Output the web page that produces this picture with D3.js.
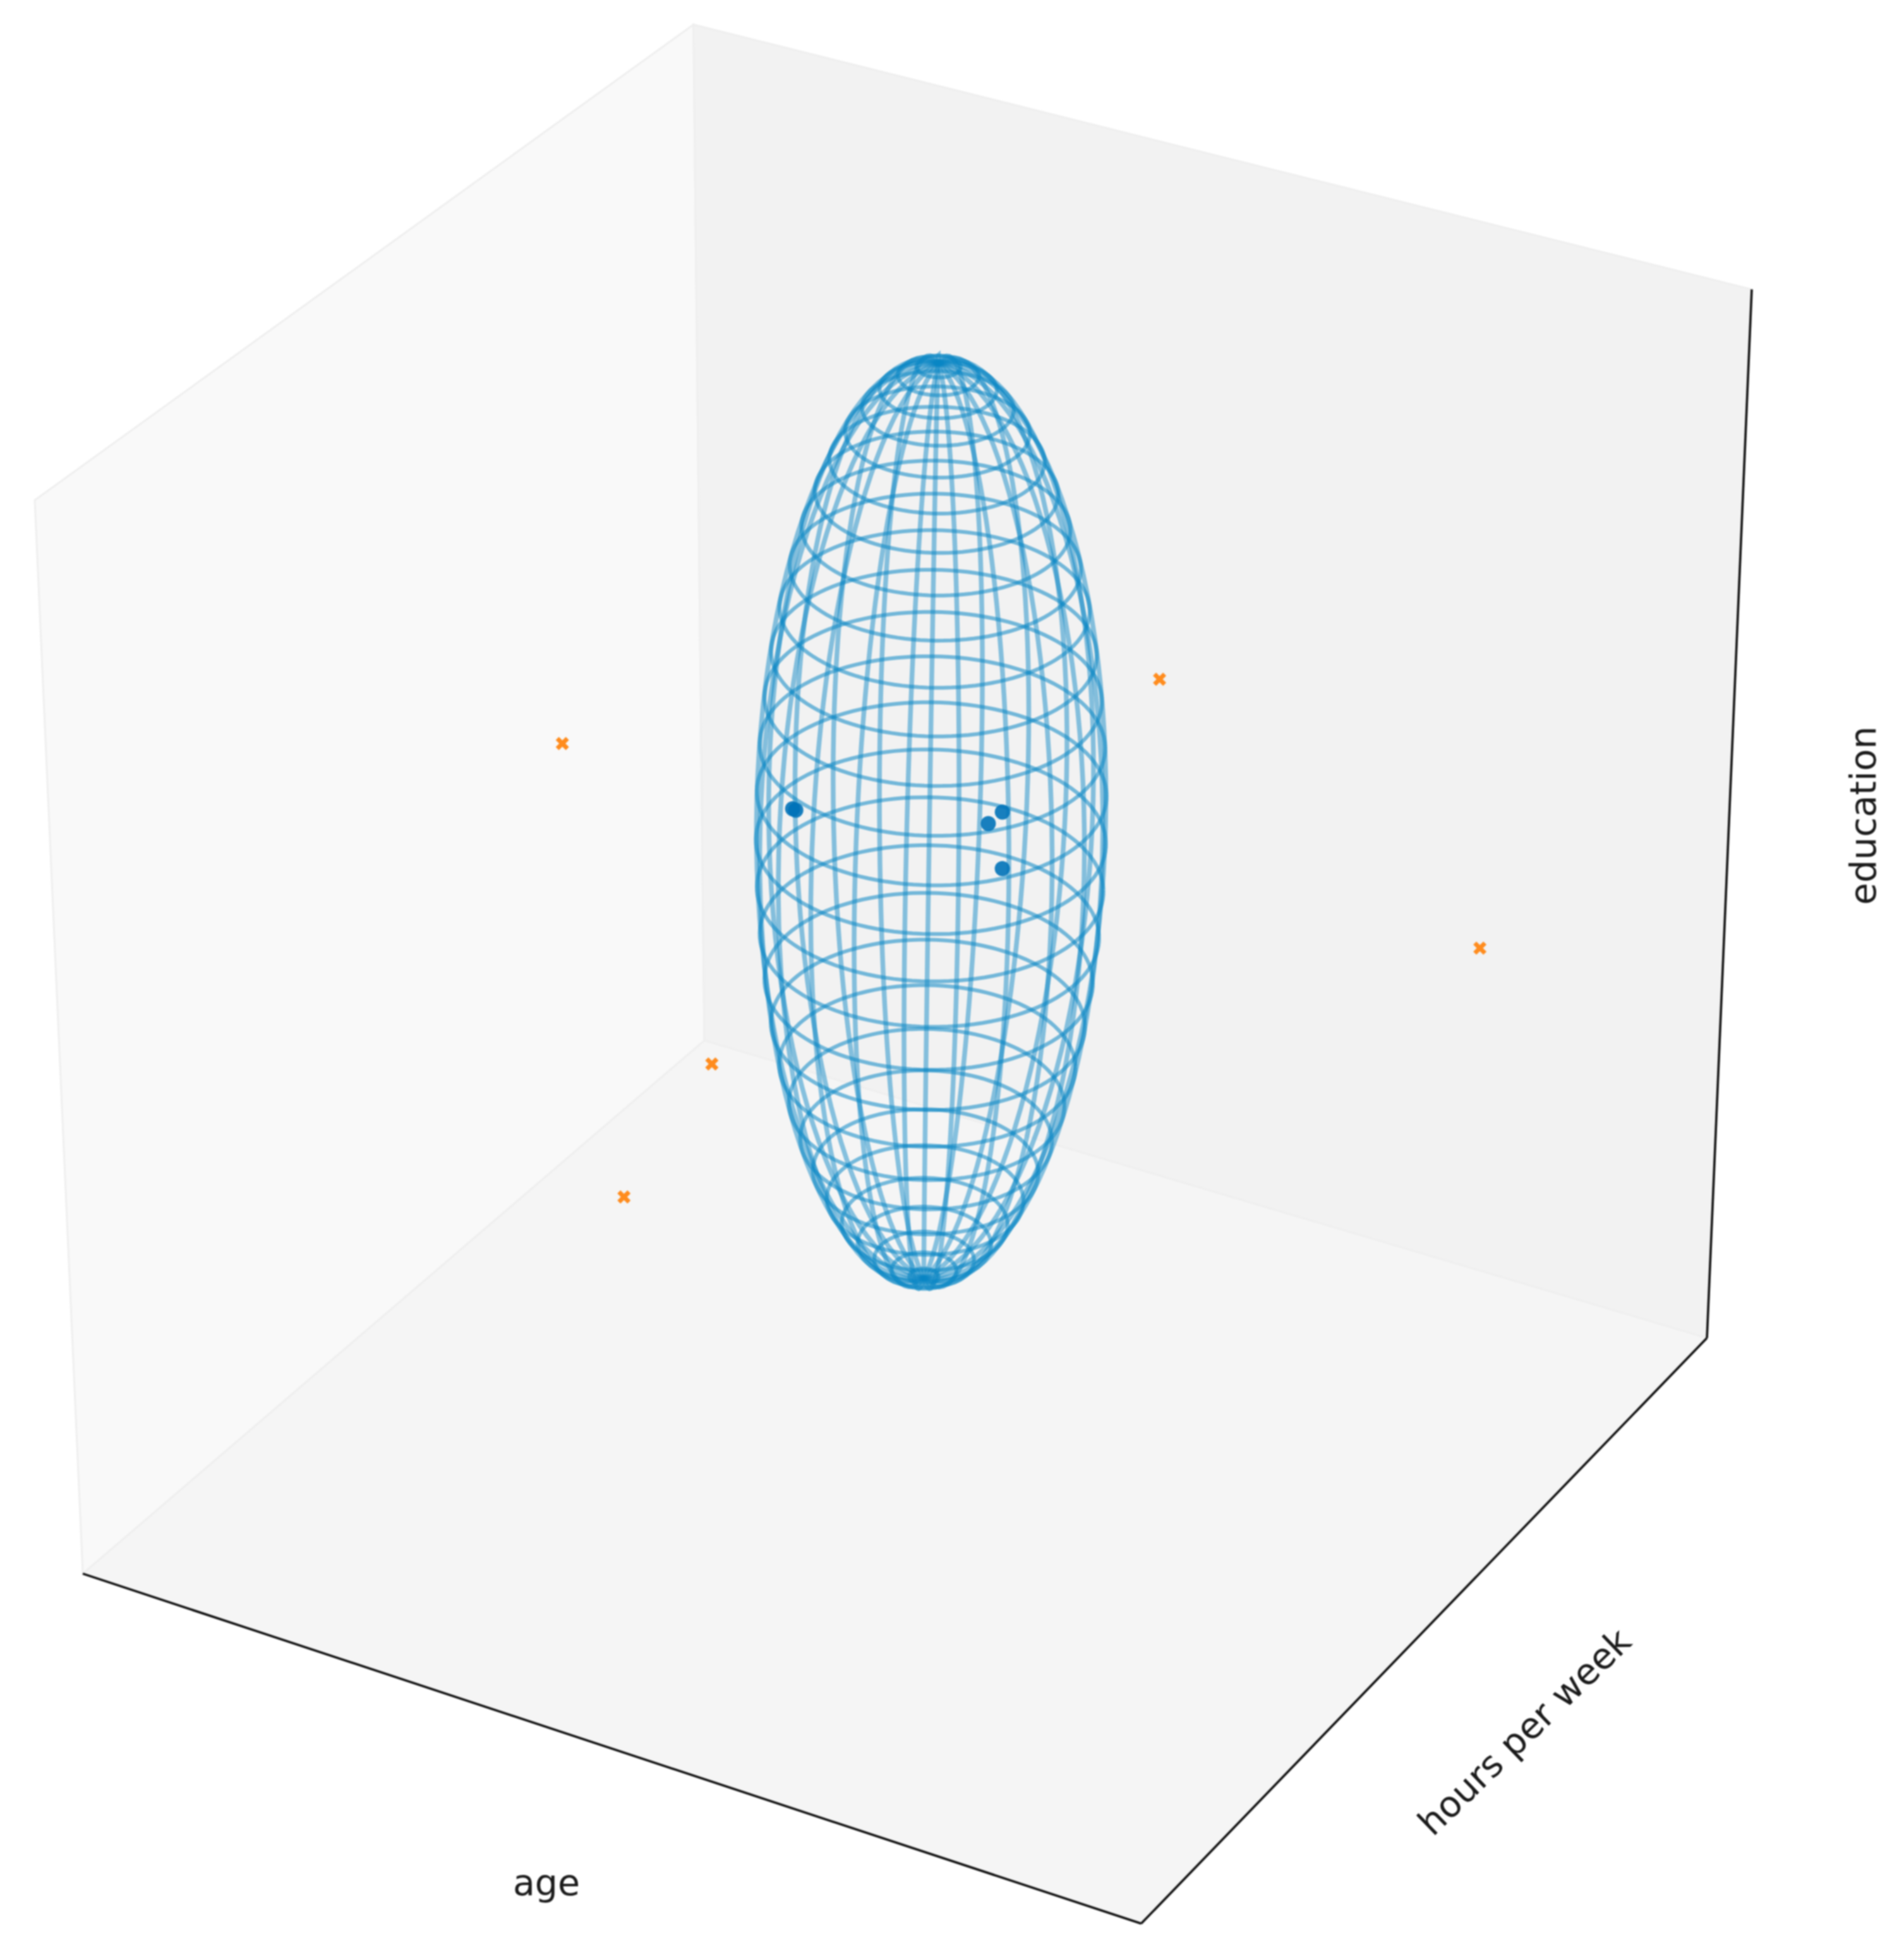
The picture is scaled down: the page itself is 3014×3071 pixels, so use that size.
<!DOCTYPE html>
<html>
<head>
<meta charset="utf-8">
<script src="https://cdn.jsdelivr.net/npm/d3@7"></script>
<style>
  html, body { margin: 0; padding: 0; background: #fff; }
  text { font-family: "DejaVu Sans", sans-serif; fill: #1a1a1a; }
</style>
</head>
<body>
<svg id="chart" width="3014" height="3071"></svg>
<script>
// points, in axis fractions (age, hours per week, education)
var outlierAge = [0.261, 0.297, 0.396, 0.499, 0.907];
var outlierHours = [0.353, 0.522, 0.219, 0.926, 0.730];
var outlierEdu = [0.686, 0.309, 0.369, 0.539, 0.493];

var inlierAge = [0.416, 0.4135, 0.533, 0.5405, 0.552];
var inlierHours = [0.4615, 0.4607, 0.573, 0.583, 0.563];
var inlierEdu = [0.615, 0.616, 0.581, 0.589, 0.549];

// ellipsoid fitted to the outline: width, depth, height
var ellipsoidCenter = [0.4917, 0.5508, 0.5725];
var ellipsoidRadii = [0.1435, 0.1513, 0.4312];
var ellipsoidYaw = Math.PI / 6;
var ellipsoidTilt = 0.015;
var MERIDIANS = 21;
var MERIDIAN_PHASE = 0.0748;
var PARALLELS = 30;
var PARALLEL_PHASE = 0.18;

var axisLabels = ["age", "hours per week", "education"];

var ELEV = 30 * Math.PI / 180;
var AZIM = -60 * Math.PI / 180;
var DIST = 9;

var n = [Math.cos(ELEV) * Math.cos(AZIM), Math.cos(ELEV) * Math.sin(AZIM), Math.sin(ELEV)];
var u = [-Math.sin(AZIM), Math.cos(AZIM), 0];
var v = [n[1] * u[2] - n[2] * u[1], n[2] * u[0] - n[0] * u[2], n[0] * u[1] - n[1] * u[0]];

function dot(a, b) {
  return a[0] * b[0] + a[1] * b[1] + a[2] * b[2];
}

var xWorld = d3.scaleLinear().domain([0, 1]).range([-0.5, 0.5]);
var yWorld = d3.scaleLinear().domain([0, 1]).range([-0.5, 0.5]);
var zWorld = d3.scaleLinear().domain([0, 1]).range([-0.5, 0.5]);

var xScreen = d3.scaleLinear().domain([-0.0795, 0.07667]).range([55, 2773]);
var yScreen = d3.scaleLinear().domain([-0.08945, 0.08291]).range([3045, 39]);

function project(p) {
  var c = [xWorld(p[0]), yWorld(p[1]), zWorld(p[2])];
  var w = DIST - dot(n, c);
  return [xScreen(dot(u, c) / w), yScreen(dot(v, c) / w)];
}

function surfacePoint(theta, psi) {
  var a = ellipsoidRadii[0] * Math.sin(theta) * Math.cos(psi);
  var b = ellipsoidRadii[1] * Math.sin(theta) * Math.sin(psi);
  var sz = ellipsoidRadii[2] * Math.cos(theta);
  var sx = a * Math.cos(ellipsoidYaw) - b * Math.sin(ellipsoidYaw);
  var sy = a * Math.sin(ellipsoidYaw) + b * Math.cos(ellipsoidYaw);
  return [
    ellipsoidCenter[0] + sx + ellipsoidTilt * sz,
    ellipsoidCenter[1] + sy,
    ellipsoidCenter[2] + sz - ellipsoidTilt * sx
  ];
}

var svg = d3.select("#chart");
var plot = svg.append("g").style("filter", "blur(1.2px)");
var line = d3.line();

// panes
var panes = [
  { color: "#f9f9f9", corners: [[0, 0, 0], [0, 1, 0], [0, 1, 1], [0, 0, 1]] },
  { color: "#f2f2f2", corners: [[0, 1, 0], [1, 1, 0], [1, 1, 1], [0, 1, 1]] },
  { color: "#f5f5f5", corners: [[0, 0, 0], [1, 0, 0], [1, 1, 0], [0, 1, 0]] }
];
plot.selectAll("path.pane").data(panes).enter().append("path")
  .attr("class", "pane")
  .attr("d", function (d) { return line(d.corners.map(project)) + "Z"; })
  .attr("fill", function (d) { return d.color; })
  .attr("stroke", "#efefef")
  .attr("stroke-width", 3);

// axis lines
var axisEdges = [
  [[0, 0, 0], [1, 0, 0]],
  [[1, 0, 0], [1, 1, 0]],
  [[1, 1, 0], [1, 1, 1]]
];
plot.selectAll("path.axis").data(axisEdges).enter().append("path")
  .attr("class", "axis")
  .attr("d", function (d) { return line(d.map(project)); })
  .attr("fill", "none")
  .attr("stroke", "#111")
  .attr("stroke-width", 3.6);

// orange crosses
var outliers = outlierAge.map(function (a, i) { return [a, outlierHours[i], outlierEdu[i]]; });
plot.selectAll("path.outlier").data(outliers).enter().append("path")
  .attr("class", "outlier")
  .attr("transform", function (d) { return "translate(" + project(d) + ")"; })
  .attr("d", "M-8,-8L8,8M-8,8L8,-8")
  .attr("stroke", "#ff8c1e")
  .attr("stroke-width", 7)
  .attr("fill", "none");

// wireframe
var meridianWires = d3.range(MERIDIANS).map(function (i) {
  var psi = MERIDIAN_PHASE + i * 2 * Math.PI / MERIDIANS;
  return d3.range(0, 61).map(function (k) { return surfacePoint(k * Math.PI / 60, psi); });
});
var parallelWires = d3.range(0, PARALLELS).map(function (j) {
  var theta = (j + PARALLEL_PHASE) * Math.PI / PARALLELS;
  return d3.range(0, 121).map(function (k) { return surfacePoint(theta, k * Math.PI / 60); });
});
plot.selectAll("path.meridian").data(meridianWires).enter().append("path")
  .attr("class", "meridian")
  .attr("d", function (d) { return line(d.map(project)); })
  .attr("fill", "none")
  .attr("stroke", "#0a86c4")
  .attr("stroke-opacity", 0.48)
  .attr("stroke-width", 7.5);
plot.selectAll("path.parallel").data(parallelWires).enter().append("path")
  .attr("class", "parallel")
  .attr("d", function (d) { return line(d.map(project)); })
  .attr("fill", "none")
  .attr("stroke", "#0a86c4")
  .attr("stroke-opacity", 0.55)
  .attr("stroke-width", 6);

// blue dots
var inliers = inlierAge.map(function (a, i) { return [a, inlierHours[i], inlierEdu[i]]; });
plot.selectAll("circle.inlier").data(inliers).enter().append("circle")
  .attr("class", "inlier")
  .attr("cx", function (d) { return project(d)[0]; })
  .attr("cy", function (d) { return project(d)[1]; })
  .attr("r", 12)
  .attr("fill", "#0072b8")
  .attr("fill-opacity", 0.9);

// labels
var labelSpots = [
  { x: 865, y: 2980, angle: 0 },
  { x: 2413, y: 2741, angle: -44 },
  { x: 2949, y: 1291, angle: -90 }
];
plot.selectAll("text").data(axisLabels).enter().append("text")
  .attr("transform", function (d, i) {
    return "translate(" + labelSpots[i].x + "," + labelSpots[i].y + ") rotate(" + labelSpots[i].angle + ")";
  })
  .attr("text-anchor", "middle")
  .attr("dominant-baseline", "central")
  .attr("font-size", 57)
  .text(function (d) { return d; });
</script>
</body>
</html>
